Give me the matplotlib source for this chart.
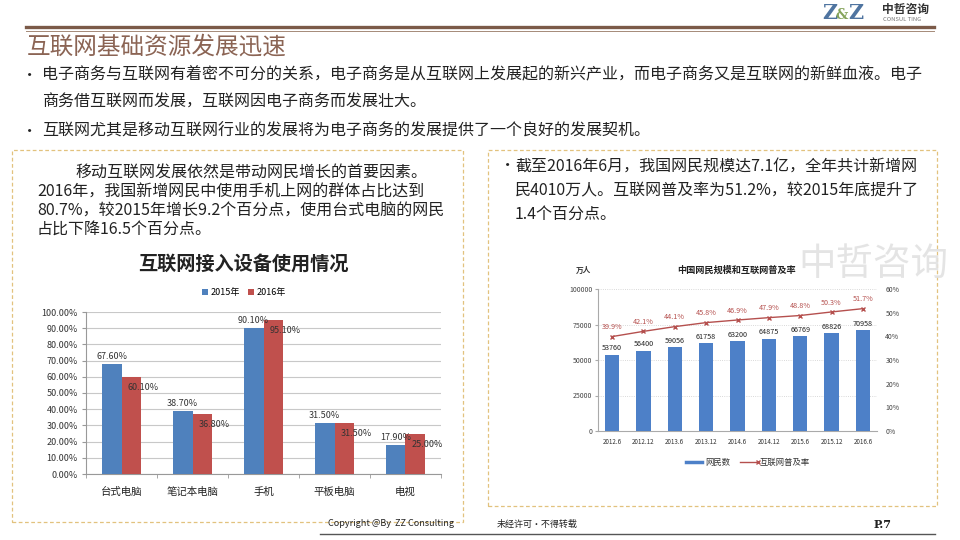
import matplotlib
matplotlib.use('Agg')
import matplotlib.pyplot as plt
import numpy as np
from matplotlib.patches import Rectangle
from matplotlib.lines import Line2D

plt.rcParams['font.family'] = ['Noto Sans CJK SC', 'DejaVu Sans']

# 左图数据：互联网接入设备使用情况
设备 = ['台式电脑', '笔记本电脑', '手机', '平板电脑', '电视']
占比2015 = [67.6, 38.7, 90.1, 31.5, 17.9]
占比2016 = [60.1, 36.8, 95.1, 31.5, 25.0]

# 右图数据：中国网民规模和互联网普及率
时间 = ['2012.6', '2012.12', '2013.6', '2013.12', '2014.6', '2014.12', '2015.6', '2015.12', '2016.6']
网民数 = [53760, 56400, 59056, 61758, 63200, 64875, 66769, 68826, 70958]
普及率 = [39.9, 42.1, 44.1, 45.8, 46.9, 47.9, 48.8, 50.3, 51.7]

W, H = 960, 540
fig = plt.figure(figsize=(9.6, 5.4), dpi=100)


def fx(x):
    return x / W


def fy(y):
    return 1 - y / H


def texto(x, y, s, **kw):
    kw.setdefault('va', 'center')
    fig.text(fx(x), fy(y), s, **kw)


def linea(x0, x1, y0, y1, **kw):
    fig.add_artist(Line2D([fx(x0), fx(x1)], [fy(y0), fy(y1)], transform=fig.transFigure, **kw))


def caja(x0, y0, x1, y1):
    fig.add_artist(Rectangle((fx(x0), fy(y1)), fx(x1) - fx(x0), fy(y0) - fy(y1),
                             transform=fig.transFigure, fill=False, edgecolor='#e2c27e',
                             linestyle=(0, (3, 2)), linewidth=0.9))


# 顶部线条和标志
linea(26, 934, 27, 27, color='#7b5a48', linewidth=2.4)
linea(26, 934, 30.5, 30.5, color='#a58a78', linewidth=0.7)
texto(822, 13, 'Z', color='#4f74a0', fontsize=15, fontweight='bold', family='DejaVu Serif')
texto(836, 15, '&', color='#86a45c', fontsize=10, fontweight='bold', family='DejaVu Serif')
texto(848, 13, 'Z', color='#4f74a0', fontsize=15, fontweight='bold', family='DejaVu Serif')
texto(882, 10, '中哲咨询', color='#333333', fontsize=8.5, fontweight='bold')
texto(883, 19.5, 'CONSUL TING', color='#777777', fontsize=4.2)

# 标题与要点
texto(27, 47, '互联网基础资源发展迅速', color='#8b6454', fontsize=17)
texto(22, 75, '•', fontsize=11, color='#222222')
texto(42, 75, '电子商务与互联网有着密不可分的关系，电子商务是从互联网上发展起的新兴产业，而电子商务又是互联网的新鲜血液。电子',
      fontsize=11.5, color='#222222')
texto(42, 102, '商务借互联网而发展，互联网因电子商务而发展壮大。', fontsize=11.5, color='#222222')
texto(22, 131, '•', fontsize=11, color='#222222')
texto(42, 131, '互联网尤其是移动互联网行业的发展将为电子商务的发展提供了一个良好的发展契机。', fontsize=11.5, color='#222222')

# 两个虚线框
caja(12, 150, 463, 522)
caja(488, 150, 937, 506)

# 左框文字
texto(75, 173, '移动互联网发展依然是带动网民增长的首要因素。', fontsize=11.5, color='#222222')
texto(37, 192, '2016年，我国新增网民中使用手机上网的群体占比达到', fontsize=11.5, color='#222222')
texto(37, 211, '80.7%，较2015年增长9.2个百分点，使用台式电脑的网民', fontsize=11.5, color='#222222')
texto(37, 230, '占比下降16.5个百分点。', fontsize=11.5, color='#222222')
texto(243, 264, '互联网接入设备使用情况', fontsize=13.8, fontweight='bold', ha='center', color='#222222')

# 左图
ax = fig.add_axes([fx(86), fy(474), fx(441) - fx(86), fy(312) - fy(474)])
x = np.arange(len(设备))
bw = 0.28
c15, c16 = '#4f81bd', '#c0504d'
ax.bar(x - bw / 2, 占比2015, bw, color=c15, label='2015年', zorder=3)
ax.bar(x + bw / 2, 占比2016, bw, color=c16, label='2016年', zorder=3)
for i in range(len(设备)):
    ax.text(x[i] - bw / 2, 占比2015[i] + 2, f'{占比2015[i]:.2f}%', ha='center', va='bottom',
            fontsize=6.5, color='#333333', zorder=4)
    ax.text(x[i] + bw / 2 + 0.17, 占比2016[i] - 6.5, f'{占比2016[i]:.2f}%', ha='center', va='center',
            fontsize=6.5, color='#333333', zorder=4)
ax.set_xlim(-0.5, len(设备) - 0.5)
ax.set_ylim(0, 100)
ax.set_yticks(np.arange(0, 101, 10))
ax.set_yticklabels([f'{v:.2f}%' for v in np.arange(0, 101, 10)], fontsize=6.5, color='#333333')
ax.set_xticks(x)
ax.set_xticklabels(设备, fontsize=7.5, color='#222222')
ax.set_xticks(np.arange(-0.5, len(设备), 1), minor=True)
ax.tick_params(axis='x', which='major', length=0, pad=9)
ax.tick_params(axis='x', which='minor', length=3, color='#999999')
ax.tick_params(axis='y', length=3, color='#999999', pad=3)
ax.grid(axis='y', color='#c8c8c8', linewidth=0.8, zorder=0)
for s in ['top', 'right']:
    ax.spines[s].set_visible(False)
ax.spines['left'].set_color('#999999')
ax.spines['bottom'].set_color('#999999')
ax.legend(loc='center', bbox_to_anchor=(0.445, 1.12), ncol=2, frameon=False, fontsize=6.5,
          handlelength=0.7, handleheight=0.7, handletextpad=0.3, columnspacing=0.8)

# 右框文字
texto(500, 166, '•', fontsize=11, color='#222222')
texto(515, 167, '截至2016年6月，我国网民规模达7.1亿，全年共计新增网', fontsize=11.5, color='#222222')
texto(515, 191, '民4010万人。互联网普及率为51.2%，较2015年底提升了', fontsize=11.5, color='#222222')
texto(515, 214, '1.4个百分点。', fontsize=11.5, color='#222222')

# 水印
texto(798, 264, '中哲咨询', fontsize=27, color='#e2e2e2', alpha=0.9)

# 右图
ax2 = fig.add_axes([fx(598), fy(431), fx(877) - fx(598), fy(289) - fy(431)])
xr = np.arange(len(时间))
ax2.bar(xr, 网民数, 0.46, color='#4d80c8', zorder=3)
for i in range(len(时间)):
    ax2.text(xr[i], 网民数[i] + 1800, str(网民数[i]), ha='center', va='bottom', fontsize=5.2,
             color='#222222', zorder=4)
ax2.set_xlim(-0.45, len(时间) - 0.55)
ax2.set_ylim(0, 100000)
ax2.set_yticks([0, 25000, 50000, 75000, 100000])
ax2.set_yticklabels(['0', '25000', '50000', '75000', '100000'], fontsize=5, color='#444444')
ax2.set_xticks(xr)
ax2.set_xticklabels(时间, fontsize=4.5, color='#333333')
ax2.tick_params(axis='x', length=0, pad=5)
ax2.tick_params(axis='y', length=2, color='#aaaaaa', pad=2)
ax2.grid(axis='y', color='#cccccc', linewidth=0.6, linestyle=':', zorder=0)
for s in ['top', 'right']:
    ax2.spines[s].set_visible(False)
ax2.spines['left'].set_color('#aaaaaa')
ax2.spines['bottom'].set_color('#aaaaaa')

ax3 = ax2.twinx()
ax3.plot(xr, 普及率, color='#b5504e', linewidth=1, marker='x', markersize=3.5, markeredgewidth=1, zorder=5)
for i in range(len(时间)):
    ax3.text(xr[i], 普及率[i] + 2.3, f'{普及率[i]}%', ha='center', va='bottom', fontsize=5.2,
             color='#b5504e')
ax3.set_ylim(0, 60)
ax3.set_yticks(np.arange(0, 61, 10))
ax3.set_yticklabels([f'{v}%' for v in range(0, 61, 10)], fontsize=5, color='#444444')
ax3.tick_params(axis='y', length=0, pad=6)
for s in ['top', 'right', 'left', 'bottom']:
    ax3.spines[s].set_visible(False)

texto(583, 270, '万人', fontsize=5.5, fontweight='bold', ha='center', color='#333333')
texto(737, 270, '中国网民规模和互联网普及率', fontsize=6.6, fontweight='bold', ha='center', color='#222222')

# 右图图例
linea(686, 702, 462, 462, color='#4d80c8', linewidth=2.5)
texto(705, 462, '网民数', fontsize=6, color='#333333')
linea(740, 758, 462, 462, color='#b5504e', linewidth=1, marker='x', markersize=3.5,
      markevery=[1], markeredgewidth=1)
texto(760, 462, '互联网普及率', fontsize=6, color='#333333')

# 页脚
linea(320, 935, 534, 534, color='#555555', linewidth=1)
texto(328, 524, 'Copyright @By  ZZ Consulting', fontsize=6.5, color='#222222')
texto(497, 524, '未经许可·不得转载', fontsize=6.5, color='#222222')
texto(874, 525, 'P.7', fontsize=8, fontweight='bold', family='DejaVu Serif', color='#222222')

fig.savefig('out.png', dpi=100)
